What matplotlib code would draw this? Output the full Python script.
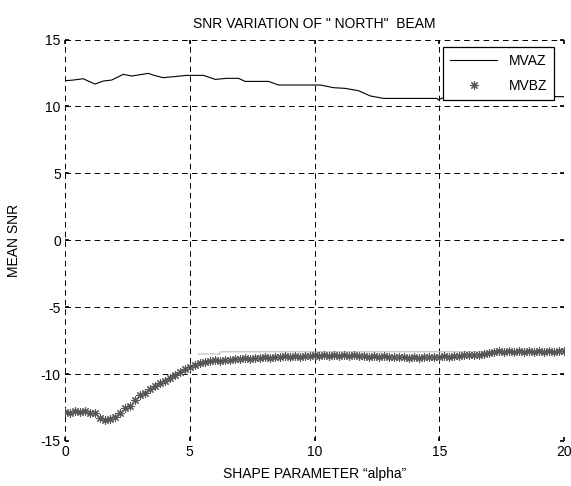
import numpy as np
import matplotlib
matplotlib.use("Agg")
import matplotlib.pyplot as plt

# MVAZ: breakpoints
mvaz_x = [0.0, 0.33, 0.73, 1.2, 1.54, 1.87, 2.34, 2.67, 3.34, 3.61, 3.94, 4.34,
          4.88, 5.55, 6.02, 6.49, 6.95, 7.22, 8.16, 8.56, 10.23, 10.76, 11.23,
          11.77, 12.24, 12.77, 14.91, 14.97, 15.1, 19.5, 20.0]
mvaz_y = [11.92, 11.97, 12.07, 11.67, 11.9, 11.97, 12.4, 12.27, 12.47, 12.3, 12.15, 12.22,
          12.32, 12.32, 12.02, 12.1, 12.1, 11.87, 11.87, 11.6, 11.6, 11.4, 11.35,
          11.17, 10.78, 10.6, 10.6, 10.48, 10.62, 10.73, 10.73]

# MVBZ: sampled every 0.2 along alpha
mvbz_x = np.linspace(0, 20, 101)
mvbz_y = [-12.80, -12.90, -12.75, -12.85, -12.78, -12.92, -12.88, -13.25, -13.42, -13.35,
          -13.20, -12.90, -12.55, -12.35, -11.95, -11.60, -11.40, -11.10, -10.90, -10.65,
          -10.50, -10.30, -10.10, -9.85, -9.65, -9.45, -9.35, -9.20, -9.10, -9.05,
          -8.98, -9.00, -8.92, -8.95, -8.85, -8.90, -8.82, -8.86, -8.78, -8.82,
          -8.75, -8.80, -8.72, -8.76, -8.68, -8.72, -8.64, -8.70, -8.62, -8.66,
          -8.58, -8.64, -8.56, -8.62, -8.58, -8.66, -8.60, -8.64, -8.58, -8.66,
          -8.62, -8.70, -8.64, -8.72, -8.68, -8.74, -8.70, -8.76, -8.72, -8.78,
          -8.74, -8.78, -8.72, -8.76, -8.70, -8.72, -8.66, -8.70, -8.62, -8.64,
          -8.58, -8.60, -8.55, -8.56, -8.50, -8.45, -8.35, -8.28, -8.36, -8.26,
          -8.34, -8.25, -8.35, -8.27, -8.34, -8.25, -8.33, -8.26, -8.34, -8.24,
          -8.30]

# faint grey trace sitting on top of the MVBZ band
trace_x = [5.35, 6.2, 6.25, 17.2]
trace_y = [-8.5, -8.5, -8.33, -8.33]

plt.rcParams["font.family"] = ["Liberation Sans", "DejaVu Sans"]
plt.rcParams["font.size"] = 10
plt.rcParams["axes.unicode_minus"] = False
plt.rcParams["lines.scale_dashes"] = False

fig = plt.figure(figsize=(5.71, 4.86), dpi=100)
ax = fig.add_axes([0.1138, 0.0926, 0.874, 0.8261])

ax.plot(trace_x, trace_y, color="#c8c8c8", lw=1.0, zorder=2)
ax.plot(mvaz_x, mvaz_y, color="black", lw=0.8, label="MVAZ", zorder=3)
ax.plot(mvbz_x, mvbz_y, linestyle="none", marker=(8, 2, 0), markersize=6,
        markeredgewidth=0.8, color="#555555", label="MVBZ", zorder=3)

ax.set_xlim(0, 20)
ax.set_ylim(-15, 15)
ax.set_xticks([0, 5, 10, 15, 20])
ax.set_yticks([-15, -10, -5, 0, 5, 10, 15])
for s in ax.spines.values():
    s.set_visible(False)
ax.grid(True, color="black", linestyle=(0, (4, 3)), linewidth=0.7)
ax.tick_params(direction="in", length=3, width=1.2, top=True, right=True, pad=3)

ax.set_title('SNR VARIATION OF " NORTH"  BEAM', fontsize=10, pad=8)
ax.set_xlabel("SHAPE PARAMETER \u201calpha\u201d", labelpad=6)
ax.set_ylabel("MEAN SNR", labelpad=14)

leg = ax.legend(loc="upper right", bbox_to_anchor=(0.98, 0.981), fancybox=False,
                framealpha=1, edgecolor="black", handlelength=3.4,
                borderpad=0.5, labelspacing=0.8, borderaxespad=0)
leg.get_frame().set_linewidth(0.9)

fig.savefig("out.png", dpi=100)
